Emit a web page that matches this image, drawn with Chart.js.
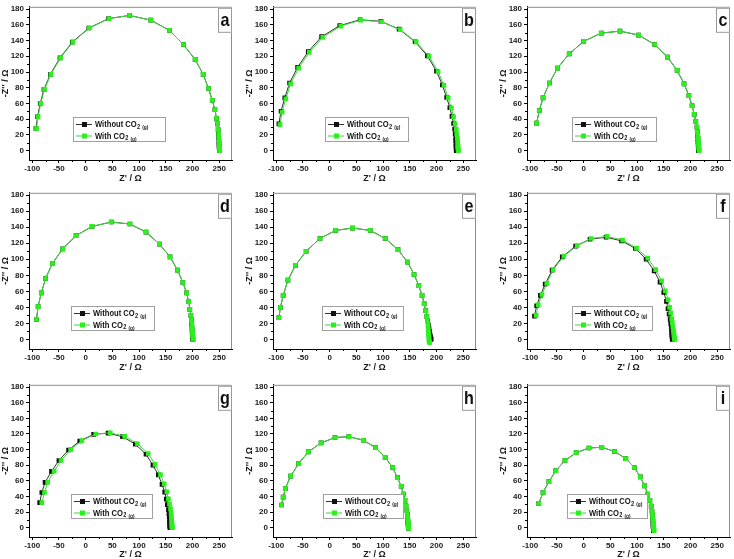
<!DOCTYPE html>
<html>
<head>
<meta charset="utf-8">
<script src="https://cdn.jsdelivr.net/npm/chart.js@4.4.1/dist/chart.umd.min.js"></script>
<style>
    html, body { margin: 0; padding: 0; background: #fff; overflow: hidden; }
    #fig { position: relative; width: 734px; height: 559px; }
    #fig canvas { position: absolute; }
</style>
</head>
<body>
<div id="fig"></div>
<script>
// Axis ticks / ranges (same for every panel)
const xTicks = [-100, -50, 0, 50, 100, 150, 200, 250];
const yTicks = [0, 20, 40, 60, 80, 100, 120, 140, 160, 180];
const xRange = [-106, 274];
const yRange = [-12, 183];

// Legend names (CO + subscript 2 + subscript (g))
const seriesNames = ['Without CO', 'With CO'];

// Panel a
const aKX = [-93, -90, -85, -78, -66, -48, -25, 6, 43, 82, 122, 157, 183, 205, 220, 230, 237, 242, 245, 247, 248, 248.5, 249, 249.5, 249.5, 250, 250, 250.5, 250.5];
const aKY = [28, 43, 60, 78, 97, 118, 138, 156, 168, 172, 166, 153, 135, 116, 97, 79, 64, 52, 41, 34, 27, 21, 16, 12, 8, 5, 3, 1.5, 0];
const aGX = [-92, -89, -84, -77, -65, -47, -24, 7, 44, 82, 122, 157, 183, 205, 220, 230, 237, 242, 245, 247, 248, 249, 249.5, 250, 250, 250.5, 251, 251, 251];
const aGY = [28, 43, 60, 78, 97, 118, 138, 156, 168, 172, 166, 153, 135, 116, 97, 79, 64, 52, 41, 34, 27, 21, 16, 12, 8, 5, 3, 1.5, 0];

// Panel b
const bKX = [-95, -91, -84, -75, -60, -40, -15, 19, 57, 96, 130, 160, 183, 200, 211, 219, 225, 229, 232, 234, 235, 236, 236, 236.5, 236.5, 237, 237, 237];
const bKY = [34, 50, 67, 86, 106, 126, 145, 159, 166.5, 164.5, 154.5, 138.5, 120.5, 101, 83.5, 67.5, 54.5, 43.5, 34.5, 27.5, 21.5, 16.5, 12.5, 8.5, 5.5, 3, 1.5, 0];
const bGX = [-93, -89, -82, -73, -58, -38, -13, 21, 58, 97, 132, 162, 186, 203, 214, 222, 228, 232, 235, 237, 238, 239, 239.5, 240, 240, 240.5, 240.5, 241];
const bGY = [33, 49, 66, 85, 105, 125, 144, 158.5, 166, 164, 154, 138, 120, 100.5, 83, 67, 54, 43, 34, 27, 21, 16, 12, 8, 5, 3, 1.5, 0];

// Panel c
const cKX = [-88, -83, -76, -64, -49, -27, 0, 33, 68, 103, 133, 157, 175, 188, 197, 203, 207, 210, 212, 213, 213.5, 214, 214, 214.5, 214.5, 215, 215, 215];
const cKY = [35, 51, 67, 86, 105, 123, 139, 149.5, 152, 147, 135, 119, 102, 85, 70, 57, 46, 37, 30, 24, 19, 15, 11, 8, 5, 3, 1.5, 0];
const cGX = [-88, -83, -76, -64, -49, -27, 0, 33, 68, 103, 133, 157, 175, 188, 197, 203, 207, 210, 212, 213, 214, 214.5, 215, 215, 215.5, 216, 216, 216.5];
const cGY = [35, 51, 67, 86, 105, 123, 139, 149.5, 152, 147, 135, 119, 102, 85, 70, 57, 46, 37, 30, 24, 19, 15, 11, 8, 5, 3, 1.5, 0];

// Panel d
const dKX = [-92, -89, -83, -75, -62, -43, -18, 12, 48, 83, 113, 138, 158, 172, 182, 189, 193, 195, 197, 198, 198.5, 199, 199.5, 199.5, 200, 200, 200.5, 200.5];
const dKY = [25, 41, 58, 76, 95, 113, 129.5, 141, 146.5, 144, 134, 119, 103, 86.5, 71, 58, 47, 37.5, 30, 24, 19, 14, 10, 7, 4.5, 2.5, 1, 0];
const dGX = [-92, -89, -83, -75, -62, -43, -18, 12, 48, 83, 113, 138, 158, 172, 182, 189, 193, 195, 197, 198, 199, 199.5, 200, 200, 200.5, 201, 201, 201.5];
const dGY = [25, 41, 58, 76, 95, 113, 129.5, 141, 146.5, 144, 134, 119, 103, 86.5, 71, 58, 47, 37.5, 30, 24, 19, 14, 10, 7, 4.5, 2.5, 1, 0];

// Panel e
const eKX = [-95, -92, -87, -78, -64, -44, -18, 11, 43, 76, 104, 128, 146, 158, 167, 173, 177, 180, 182, 183.5, 185, 186, 187, 187.5, 188, 188.5, 189, 189.5, 190];
const eKY = [27, 40, 55, 74, 92.5, 110, 126, 136, 139, 136, 126, 112, 96.5, 81, 67, 55, 44.5, 36, 28.5, 23, 18, 14, 10, 7, 5, 3.5, 2, 1, 0];
const eGX = [-95, -92, -87, -78, -64, -44, -18, 11, 43, 76, 104, 128, 146, 158, 167, 173, 177, 180, 182, 183, 184, 184.5, 185, 185, 185.5, 186, 186, 186.5, 187];
const eGY = [27, 40, 55, 74, 92.5, 110, 126, 136, 139, 136, 126, 112, 96.5, 81, 67, 55, 44.5, 36, 28.5, 23, 18, 14, 10, 7, 4, 1.5, -1, -3, -4];

// Panel f
const fKX = [-92, -88, -81, -72, -59, -40, -15, 12, 42, 71, 97, 117, 132, 143, 150, 155, 158, 160, 162, 163, 164, 164.5, 165, 165, 165.5, 166, 166, 166];
const fKY = [29, 42, 55, 69, 86.5, 103, 116.5, 125, 127.5, 123, 113.5, 100, 85.5, 71.5, 58.5, 47.5, 38.5, 31.5, 25, 20, 15.5, 11.5, 8.5, 5.5, 3, 1.5, 0.5, 0];
const fGX = [-89, -85, -78, -69, -57, -37, -12, 14, 44, 73, 99, 120, 135, 146, 153, 158, 161, 163, 165, 166, 167, 168, 168.5, 169, 169.5, 170, 170, 170.5];
const fGY = [30, 43, 56, 70, 87, 104, 117, 126, 128.5, 124, 114, 101.5, 87, 73, 60.5, 49.5, 40, 33, 26, 21, 16, 12, 9, 6, 3.5, 2, 1, 0];

// Panel g
const gKX = [-86, -82, -76, -64, -50, -32, -11, 15, 42, 69, 93, 113, 126, 136, 143, 148, 151, 153, 155, 156, 156.5, 157, 157, 157.5, 157.5, 158, 158, 158];
const gKY = [32, 45, 58, 72, 86, 99.5, 111, 119.5, 121, 116.5, 107, 94, 80, 67.5, 55.5, 45.5, 36.5, 29.5, 23, 18, 14, 10.5, 7.5, 5, 3, 1.5, 0.5, 0];
const gGX = [-82, -77, -71, -59, -46, -28, -7, 19, 46, 73, 97, 117, 130, 140, 147, 152, 155, 157, 159, 160, 160.5, 161, 161, 161.5, 161.5, 162, 162, 162];
const gGY = [32, 45, 58, 72.5, 86, 100, 111.5, 120, 121.5, 117, 107.5, 95, 81, 68, 56, 46, 37, 30, 24, 19, 14.5, 11, 8, 5, 3, 1.5, 0.5, 0];

// Panel h
const hKX = [-90, -87, -83, -73, -58, -40, -16, 10, 36, 63, 86, 104, 118, 127, 134, 138, 141, 143, 144.5, 145.5, 146, 146.5, 146.5, 147, 147, 147.5, 147.5, 147.5];
const hKY = [29, 39, 50, 66, 82, 97, 108.5, 115.5, 116.5, 112, 102.5, 90, 77, 64, 53, 43, 35, 28, 22, 17, 13, 9.5, 6.5, 4, 2, 0.5, -0.5, -1];
const hGX = [-90, -87, -83, -73, -58, -40, -16, 10, 36, 63, 86, 104, 118, 127, 134, 138, 141, 143, 144.5, 145.5, 146, 146.5, 147, 147, 147.5, 148, 148, 148];
const hGY = [29, 39, 50, 66, 82, 97, 108.5, 115.5, 116.5, 112, 102.5, 90, 77, 64, 53, 43, 35, 28, 22, 17, 13, 9.5, 6.5, 4, 2, 0.5, -0.5, -1];

// Panel i
const iKX = [-84, -76, -65, -52, -35, -14, 10, 34, 58, 79, 95, 106, 114, 120, 124, 126.5, 128, 129, 129.5, 129.5, 130, 130, 130, 130.5, 130.5, 130.5];
const iKY = [31, 45, 59, 73, 86, 96, 102, 103, 97.5, 88.5, 77, 65, 53.5, 43, 35, 27.5, 21, 16, 12, 8.5, 5.5, 3, 1, -1, -2.5, -4];
const iGX = [-84, -76, -65, -52, -35, -14, 10, 34, 58, 79, 95, 106, 114, 120, 124, 126.5, 128, 129, 129.5, 130, 130.5, 131, 131, 131.5, 131.5, 132];
const iGY = [31, 45, 59, 73, 86, 96, 102, 103, 97.5, 88.5, 77, 65, 53.5, 43, 35, 27.5, 21, 16, 12, 8.5, 5.5, 3, 1, -1, -2.5, -4];

// layout: canvas position, plot height, x-axis band height, x-title bottom padding
const rows = [
    { top: 0,   h: 157, xh: 26, tp: 2 },
    { top: 186, h: 160, xh: 26, tp: 2 },
    { top: 378, h: 156, xh: 24, tp: 1 },
];
const cols = [0, 244, 498];

const panels = [
    { tag: 'a', r: 0, c: 0, k: [aKX, aKY], g: [aGX, aGY], legX: 44, legW: 93 },
    { tag: 'b', r: 0, c: 1, k: [bKX, bKY], g: [bGX, bGY], legX: 52, legW: 84 },
    { tag: 'c', r: 0, c: 2, k: [cKX, cKY], g: [cGX, cGY], legX: 45, legW: 85 },
    { tag: 'd', r: 1, c: 0, k: [dKX, dKY], g: [dGX, dGY], legX: 42, legW: 84 },
    { tag: 'e', r: 1, c: 1, k: [eKX, eKY], g: [eGX, eGY], legX: 49, legW: 82 },
    { tag: 'f', r: 1, c: 2, k: [fKX, fKY], g: [fGX, fGY], legX: 45, legW: 81 },
    { tag: 'g', r: 2, c: 0, k: [gKX, gKY], g: [gGX, gGY], legX: 42, legW: 82 },
    { tag: 'h', r: 2, c: 1, k: [hKX, hKY], g: [hGX, hGY], legX: 50, legW: 81 },
    { tag: 'i', r: 2, c: 2, k: [iKX, iKY], g: [iGX, iGY], legX: 40, legW: 81 },
];

const GREEN = '#2cf01e';
const GREEN_LINE = '#3bd83b';
const FONT = '"Liberation Sans", Arial, sans-serif';

const pts = (xs, ys) => xs.map((x, i) => ({ x: x, y: ys[i] }));

// frame, minor ticks, panel letter and legend (with subscripts)
const extrasPlugin = {
    id: 'extras',
    afterDraw(chart, args, opts) {
        const ctx = chart.ctx;
        const ca = chart.chartArea;
        const xs = chart.scales.x, ys = chart.scales.y;
        ctx.save();

        // top / right frame
        ctx.strokeStyle = '#8c8c8c';
        ctx.lineWidth = 1;
        ctx.beginPath();
        ctx.moveTo(ca.left, ca.top + 0.5);
        ctx.lineTo(ca.right - 0.5, ca.top + 0.5);
        ctx.lineTo(ca.right - 0.5, ca.bottom);
        ctx.stroke();

        // minor ticks
        ctx.strokeStyle = '#000';
        ctx.beginPath();
        xTicks.forEach(v => {
            const m = v + 25;
            if (m < xRange[1]) {
                const px = Math.round(xs.getPixelForValue(m)) + 0.5;
                ctx.moveTo(px, ca.bottom);
                ctx.lineTo(px, ca.bottom + 2);
            }
        });
        yTicks.forEach(v => {
            const m = v + 10;
            if (m < yRange[1]) {
                const py = Math.round(ys.getPixelForValue(m)) + 0.5;
                ctx.moveTo(ca.left, py);
                ctx.lineTo(ca.left - 2, py);
            }
        });
        ctx.stroke();

        // panel letter box
        const bw = 14, bh = 25;
        const bx = ca.right - bw, by = ca.top + 1;
        ctx.fillStyle = '#fff';
        ctx.fillRect(bx, by, bw, bh);
        ctx.strokeStyle = '#9a9a9a';
        ctx.strokeRect(bx + 0.5, by + 0.5, bw - 1, bh - 1);
        ctx.fillStyle = '#111';
        ctx.font = 'bold 19px ' + FONT;
        ctx.textAlign = 'center';
        ctx.textBaseline = 'middle';
        ctx.save();
        ctx.translate(bx + bw / 2, by + bh / 2);
        ctx.scale(0.85, 1);
        ctx.fillText(opts.tag, 0, 0);
        ctx.restore();

        // legend
        const lx = ca.left + opts.legX, ly = ca.bottom - 43;
        const lw = opts.legW, lh = 25;
        ctx.fillStyle = '#fff';
        ctx.fillRect(lx, ly, lw, lh);
        ctx.strokeStyle = '#a0a0a0';
        ctx.strokeRect(lx + 0.5, ly + 0.5, lw - 1, lh - 1);
        const marks = [
            { line: '#333', fill: '#111' },
            { line: GREEN_LINE, fill: GREEN },
        ];
        marks.forEach((r, i) => {
            const cy = ly + 7 + i * 11.5;
            ctx.strokeStyle = r.line;
            ctx.beginPath();
            ctx.moveTo(lx + 3, cy + 0.5);
            ctx.lineTo(lx + 19, cy + 0.5);
            ctx.stroke();
            ctx.fillStyle = r.fill;
            ctx.fillRect(lx + 9, cy - 2, 5, 5);

            ctx.save();
            ctx.translate(lx + 22, cy + 0.5);
            ctx.scale(0.8, 1);
            ctx.fillStyle = '#111';
            ctx.textAlign = 'left';
            ctx.textBaseline = 'middle';
            ctx.font = 'bold 9.5px ' + FONT;
            ctx.fillText(seriesNames[i], 0, 0);
            let w = ctx.measureText(seriesNames[i]).width;
            ctx.font = 'bold 7px ' + FONT;
            ctx.fillText('2', w + 0.5, 2.5);
            w += ctx.measureText('2').width + 2;
            ctx.font = 'bold 6px ' + FONT;
            ctx.fillText('(g)', w + 1, 3);
            ctx.restore();
        });

        ctx.restore();
    }
};

const fig = document.getElementById('fig');

panels.forEach(p => {
    const row = rows[p.r];
    const cv = document.createElement('canvas');
    cv.width = 236;
    cv.height = 3 + row.h + row.xh;
    cv.style.left = cols[p.c] + 'px';
    cv.style.top = row.top + 'px';
    fig.appendChild(cv);

    new Chart(cv.getContext('2d'), {
        type: 'scatter',
        data: {
            datasets: [{
                label: 'Without CO2 (g)',
                data: pts(p.k[0], p.k[1]),
                showLine: true,
                borderColor: '#333',
                borderWidth: 1,
                pointStyle: 'rect',
                pointRadius: 3.3,
                pointBackgroundColor: '#111',
                pointBorderWidth: 0,
                order: 2,
            }, {
                label: 'With CO2 (g)',
                data: pts(p.g[0], p.g[1]),
                showLine: true,
                borderColor: GREEN_LINE,
                borderWidth: 1,
                pointStyle: 'rect',
                pointRadius: 3.3,
                pointBackgroundColor: GREEN,
                pointBorderWidth: 0,
                order: 1,
            }],
        },
        options: {
            responsive: false,
            animation: false,
            devicePixelRatio: 1,
            layout: {
                padding: { top: 3, right: 3, left: 0, bottom: 0 }
            },
            plugins: {
                legend: { display: false },
                tooltip: { enabled: false },
                extras: { tag: p.tag, legX: p.legX, legW: p.legW },
            },
            scales: {
                x: {
                    type: 'linear',
                    min: xRange[0],
                    max: xRange[1],
                    afterBuildTicks: (scale) => { scale.ticks = xTicks.map(v => ({ value: v })); },
                    afterFit: (scale) => { scale.height = row.xh; },
                    border: { display: true, color: '#000', width: 1 },
                    grid: { drawOnChartArea: false, drawTicks: true, tickLength: 3, color: '#000' },
                    ticks: {
                        color: '#1a1a1a',
                        padding: 1,
                        maxRotation: 0,
                        font: { family: FONT, size: 8, weight: 'bold' },
                    },
                    title: {
                        display: true,
                        text: "Z' / Ω",
                        color: '#1a1a1a',
                        padding: { top: 0, bottom: row.tp },
                        font: { family: FONT, size: 9, weight: 'bold' },
                    },
                },
                y: {
                    type: 'linear',
                    min: yRange[0],
                    max: yRange[1],
                    afterBuildTicks: (scale) => { scale.ticks = yTicks.map(v => ({ value: v })); },
                    afterFit: (scale) => { scale.width = 29; },
                    border: { display: true, color: '#000', width: 1 },
                    grid: { drawOnChartArea: false, drawTicks: true, tickLength: 3, color: '#000' },
                    ticks: {
                        color: '#1a1a1a',
                        padding: 2,
                        font: { family: FONT, size: 8, weight: 'bold' },
                    },
                    title: {
                        display: true,
                        text: "-Z'' / Ω",
                        color: '#1a1a1a',
                        padding: { top: 0, bottom: 0 },
                        font: { family: FONT, size: 9, weight: 'bold' },
                    },
                },
            },
        },
        plugins: [extrasPlugin],
    });
});
</script>
</body>
</html>
